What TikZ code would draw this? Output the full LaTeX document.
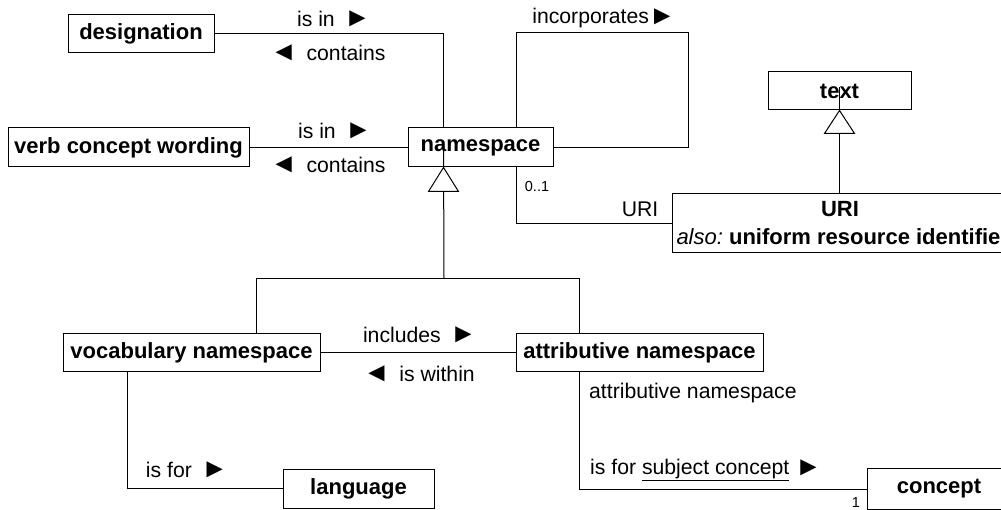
\documentclass[tikz,border=0pt]{standalone}
\usepackage{fontspec}
\setmainfont{Liberation Sans}
\newcommand{\rtri}{{\fontsize{27}{24}\selectfont\raisebox{-0.02em}{\symbol{"25BA}}}}
\newcommand{\ltri}{{\fontsize{27}{24}\selectfont\raisebox{-0.02em}{\symbol{"25C4}}}}
\begin{document}
\begin{tikzpicture}[x=1pt,y=-1pt,
  box/.style={draw,line width=1pt,inner sep=0pt,font=\fontsize{22}{24}\selectfont\bfseries},
  lbl/.style={inner sep=0pt,font=\fontsize{21.2}{24}\selectfont},
  small/.style={inner sep=0pt,font=\fontsize{14.5}{16}\selectfont},
  conn/.style={line width=1pt},
  gen/.style={line width=1pt,fill=white}]
\clip (0,0) rectangle (1001,510);
% boxes
\node[box,minimum width=146pt,minimum height=38pt] (desig) at (141,34) {designation};
\node[box,minimum width=241pt,minimum height=39pt] (vcw) at (128.5,147.5) {verb concept wording};
\node[box,minimum width=145pt,minimum height=39pt] (ns) at (480.5,147.5) {namespace};
\node[box,minimum width=143pt,minimum height=38pt] (text) at (839.5,91) {text};
\node[box,minimum width=334pt,minimum height=59pt] (uri) at (839,223.5) {};
\node[box,draw=none] (urit) at (840,209) {URI};
\node[box,draw=none,anchor=west] (urialso) at (676,237) {\mdseries\itshape also:\upshape\bfseries\ uniform resource identifier};
\node[box,minimum width=257pt,minimum height=38pt] (voc) at (191.5,353) {vocabulary namespace};
\node[box,minimum width=247pt,minimum height=38pt] (attr) at (639.5,353) {attributive namespace};
\node[box,minimum width=151pt,minimum height=39pt] (lang) at (358.5,488.5) {language};
\node[box,minimum width=144pt,minimum height=41pt] (conc) at (939,488.5) {concept};
% connectors
\coordinate (nsA) at ([xshift=36pt]ns.north west);
\draw[conn] (desig.east) -| (nsA);
\draw[conn] (vcw.east) -- (ns.west);
\draw[conn] (ns.east) -| (688,33) -| ([xshift=109pt]ns.north west);
\draw[conn] ([xshift=109pt]ns.south west) |- (uri.west |- 0,224) ;
% generalization to namespace
\coordinate (gA) at ([xshift=36pt]ns.south west);
\coordinate (gJ) at (444,279);
\draw[conn] ([yshift=25pt]gA) -- (gJ);
\draw[conn] (gJ) -| (voc.north -| 256,0);
\draw[conn] (gJ) -| (attr.north -| 579,0);
\draw[gen] (gA) -- ++(-15,24) -- ++(30,0) -- cycle;
% generalization to text
\coordinate (tA) at (text.south);
\draw[conn] ([yshift=23pt]tA) -- (uri.north -| tA);
\draw[gen] (tA) -- ++(-15,23) -- ++(30,0) -- cycle;
% others
\draw[conn] (voc.east) -- (attr.west);
\draw[conn] (voc.south -| 127,0) |- (lang.west);
\draw[conn] (attr.south -| 579,0) |- (conc.west |- 0,489);
% labels
\node[lbl] (l1) at (334,19) {is in \,\rtri};
\node[lbl] (l2) at (328,53) {\ltri\, contains};
\node[lbl] (l3) at (335,131) {is in \,\rtri};
\node[lbl] (l4) at (328,165) {\ltri\, contains};
\node[lbl] (l5) at (604,18) {incorporates\rtri};
\node[small] (l6) at (537,187) {0..1};
\node[lbl] (l7) at (640,209) {URI};
\node[lbl] (l8) at (420,335) {includes \,\rtri};
\node[lbl] (l9) at (419,374) {\ltri\, is within};
\node[lbl] (l10) at (187,470) {is for \,\rtri};
\node[lbl,anchor=west] (l11) at (589,393) {attributive namespace};
\node[lbl,anchor=west] (l12) at (590,470) {is for \underline{subject concept} \rtri};
\node[small] (l13) at (856,503) {1};
\end{tikzpicture}
\end{document}
